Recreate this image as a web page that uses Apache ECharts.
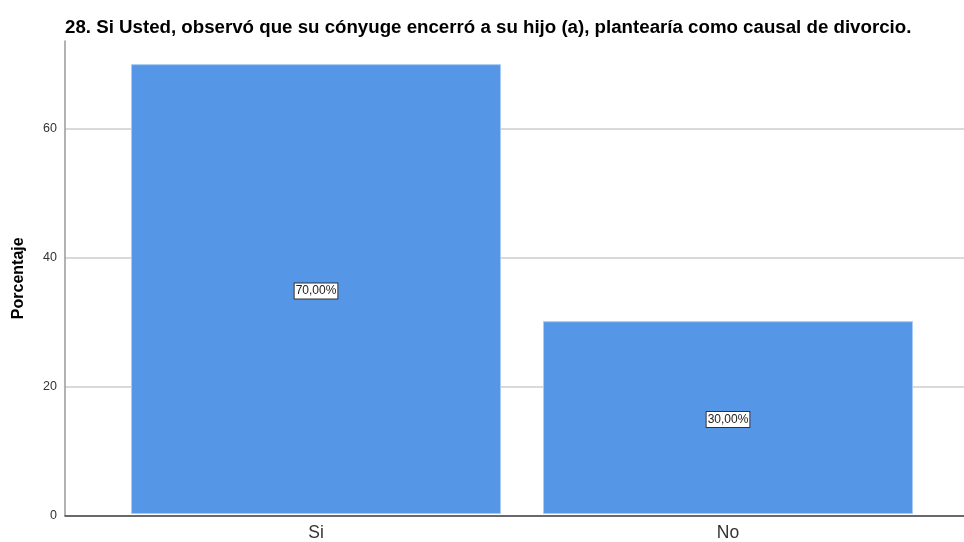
<!DOCTYPE html>
<html>
<head>
<meta charset="utf-8">
<script src="https://cdn.jsdelivr.net/npm/echarts@6/dist/echarts.min.js"></script>
<style>
  html, body { margin: 0; padding: 0; background: #fff; }
  #chart { width: 964px; height: 542px; }
</style>
</head>
<body>
<div id="chart"></div>
<script>
// Chart content
const titleText = '28. Si Usted, observó que su cónyuge encerró a su hijo (a), plantearía como causal de divorcio.';
const categories = ['Si', 'No'];
const percentages = [70, 30];
const yTicks = [0, 20, 40, 60];
const yAxisName = 'Porcentaje';

const Y_MAX = 73.6;
const FONT = '"Liberation Sans", Arial, sans-serif';

const chart = echarts.init(document.getElementById('chart'), null, { renderer: 'canvas' });

chart.setOption({
  animation: false,
  backgroundColor: '#ffffff',
  title: {
    text: titleText,
    left: 65,
    top: 18,
    padding: 0,
    textStyle: { fontFamily: FONT, fontSize: 18.7, fontWeight: 'bold', color: '#000' }
  },
  grid: [
    // frame: axis lines, tick labels and gridlines
    { left: 65, right: 0, top: 41, bottom: 26.5 },
    // bars
    { left: 110, right: 30, top: 41, bottom: 26.5 }
  ],
  xAxis: [
    {
      gridIndex: 0, type: 'category', data: [''],
      axisLine: { show: true, lineStyle: { color: '#444', width: 1.5 } },
      axisTick: { show: false }, axisLabel: { show: false }, splitLine: { show: false }
    },
    {
      gridIndex: 1, type: 'category', data: categories,
      axisLine: { show: false }, axisTick: { show: false },
      axisLabel: { fontFamily: FONT, fontSize: 17.5, color: '#333', margin: 10 }
    }
  ],
  yAxis: [
    {
      gridIndex: 0, type: 'value', min: 0, max: Y_MAX, interval: 20,
      name: yAxisName, nameLocation: 'middle', nameGap: 38,
      nameTextStyle: { fontFamily: FONT, fontSize: 16, fontWeight: 'bold', color: '#000' },
      axisLine: { show: true, lineStyle: { color: '#999', width: 1.5 } },
      axisTick: { show: false },
      axisLabel: {
        fontFamily: FONT, fontSize: 12.5, color: '#333', margin: 8,
        showMaxLabel: false,
        formatter: v => (yTicks.includes(v) ? String(v) : '')
      },
      splitLine: { show: true, showMaxLine: false, lineStyle: { color: '#cccccc', width: 1.5 } }
    },
    {
      gridIndex: 1, type: 'value', min: 0, max: Y_MAX,
      axisLine: { show: false }, axisTick: { show: false },
      axisLabel: { show: false }, splitLine: { show: false }
    }
  ],
  series: [
    {
      type: 'bar',
      xAxisIndex: 1, yAxisIndex: 1,
      data: percentages,
      barWidth: 370,
      itemStyle: { color: '#5596e6', borderColor: '#a9cbf3', borderWidth: 1 },
      label: {
        show: true,
        position: 'inside',
        offset: [0, 2],
        formatter: p => p.value.toFixed(2).replace('.', ',') + '%',
        fontFamily: FONT, fontSize: 12, color: '#222',
        backgroundColor: '#fff', borderColor: '#333', borderWidth: 1,
        padding: [2, 1, 1, 1]
      }
    }
  ]
});
</script>
</body>
</html>
